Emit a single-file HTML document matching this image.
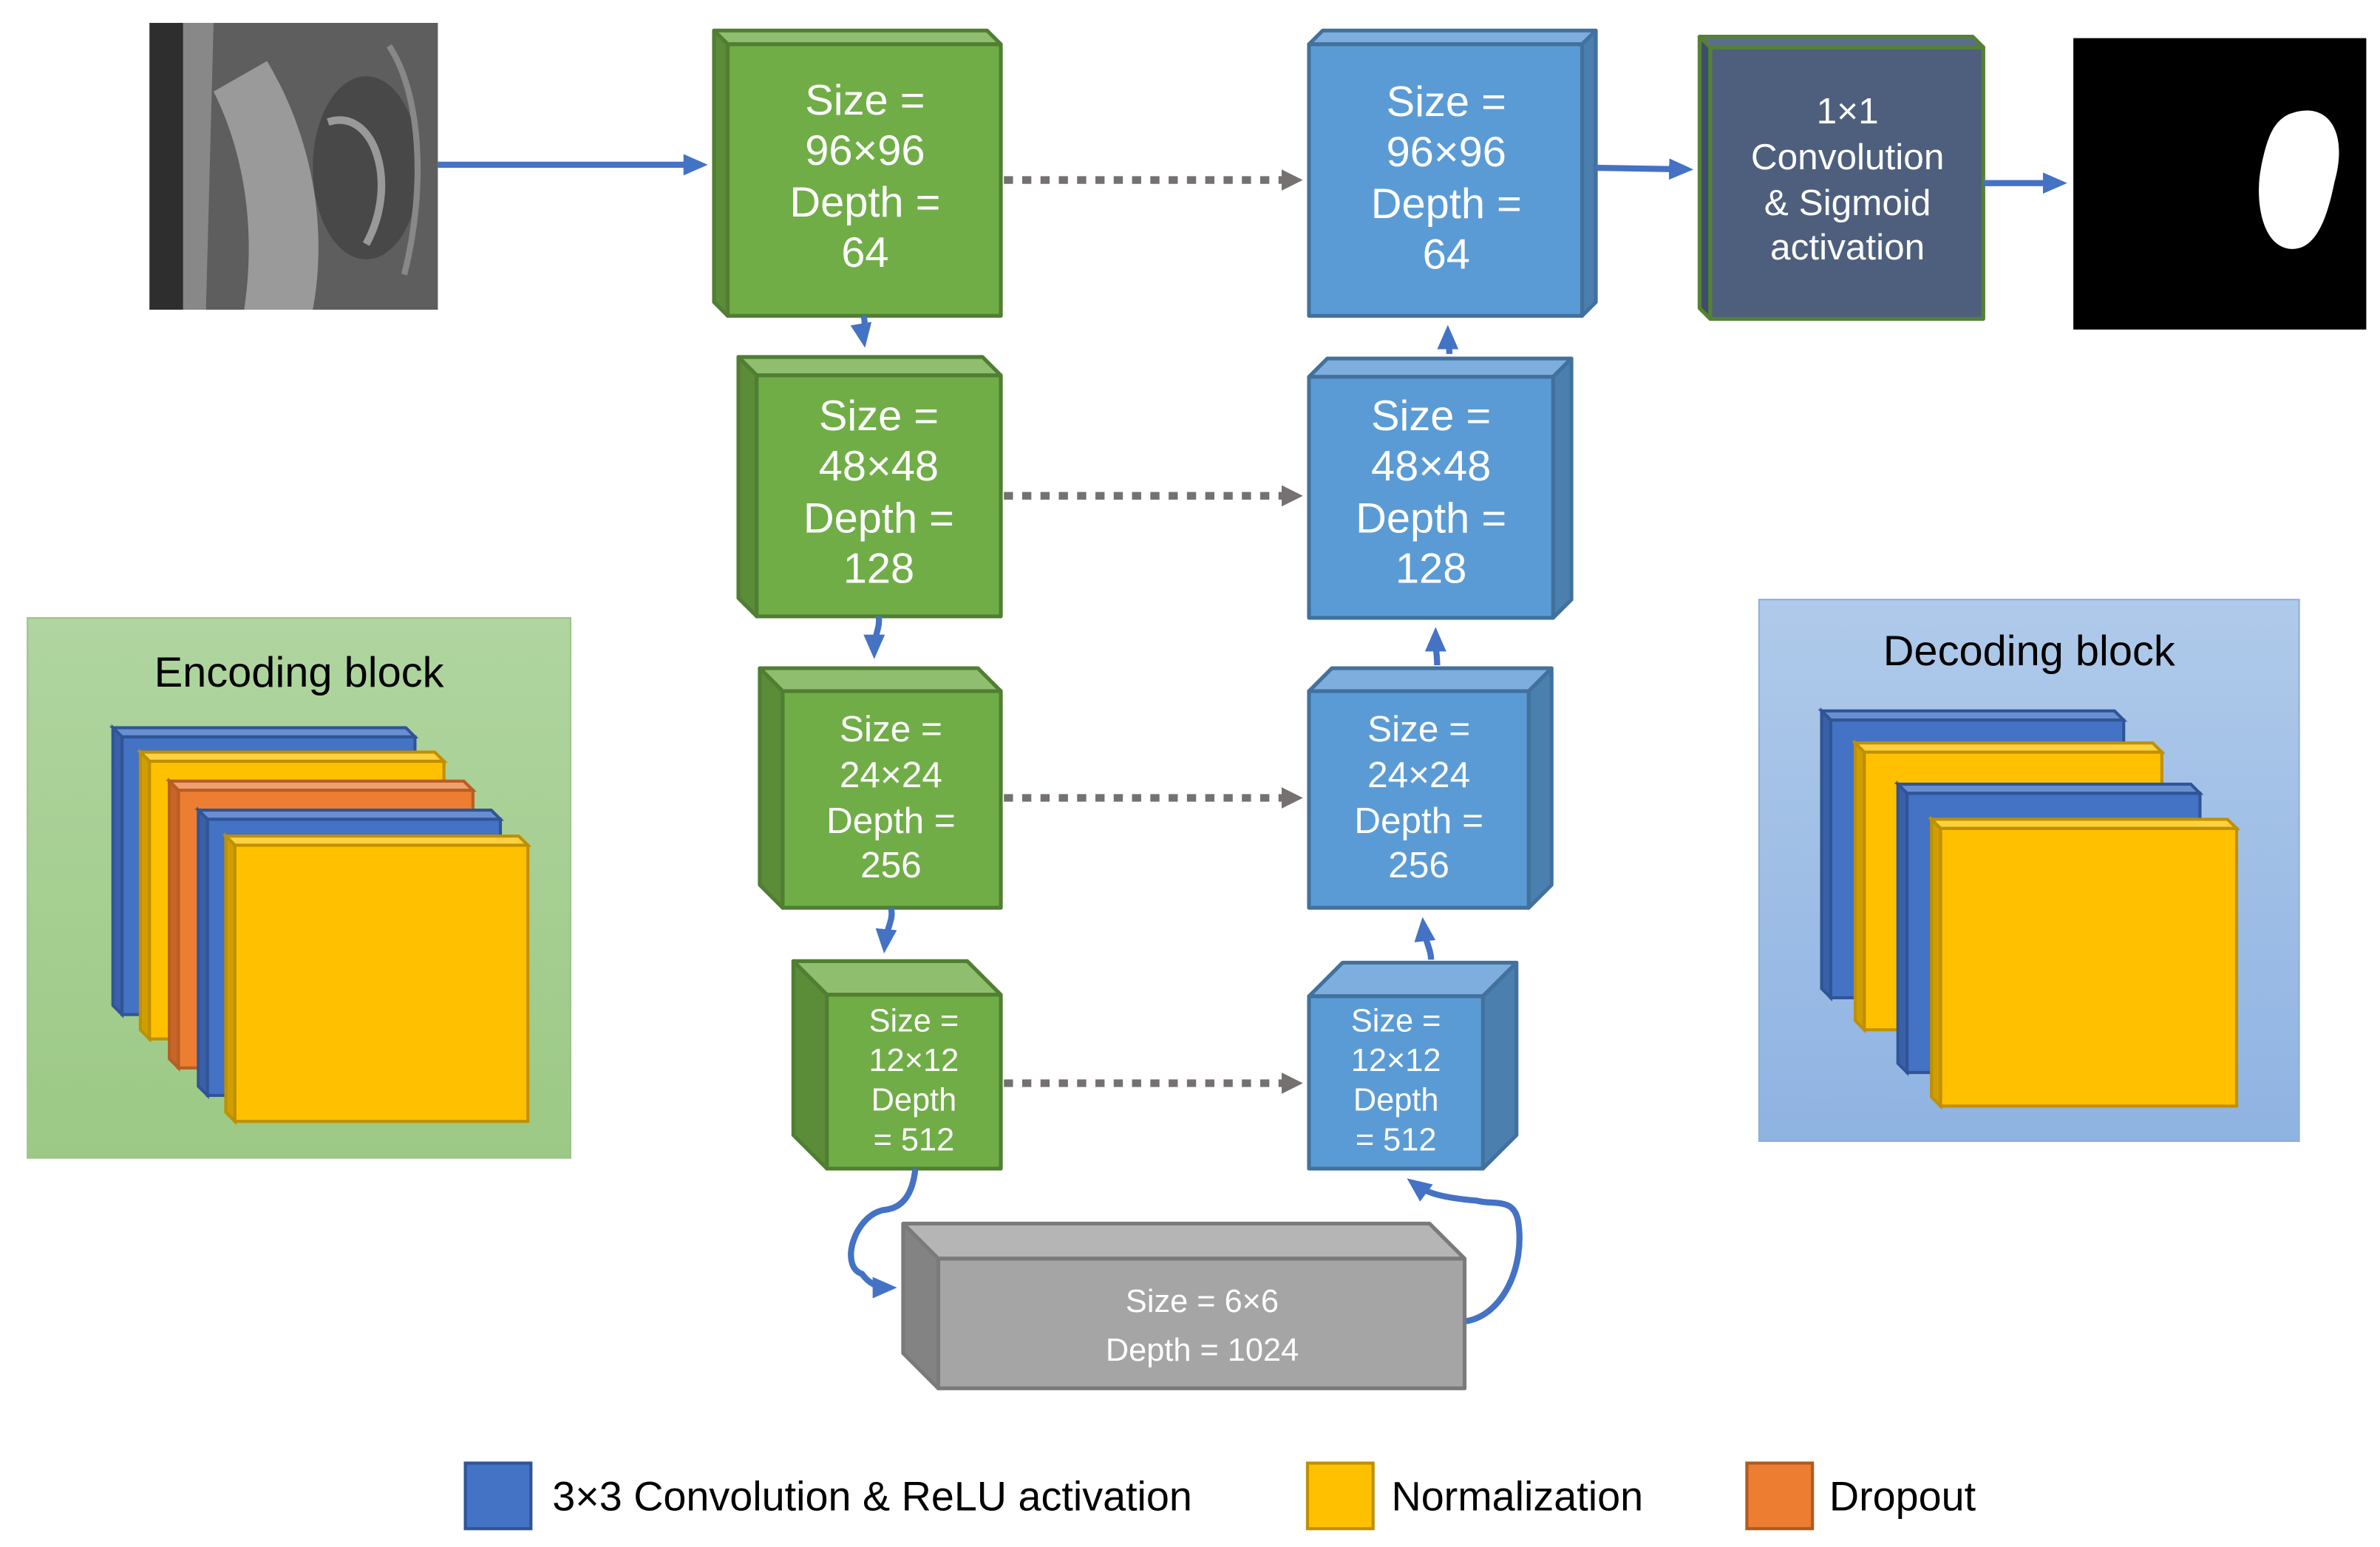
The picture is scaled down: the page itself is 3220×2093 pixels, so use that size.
<!DOCTYPE html>
<html><head><meta charset="utf-8"><style>
html,body{margin:0;padding:0;background:#fff;}
svg{display:block;}
text{font-family:"Liberation Sans",sans-serif;}
</style></head><body>
<svg width="3220" height="2093" viewBox="0 0 1560 1014" xmlns="http://www.w3.org/2000/svg">
<defs>
<linearGradient id="gg" x1="0" y1="0" x2="0" y2="1"><stop offset="0" stop-color="#b0d5a0"/><stop offset="1" stop-color="#9cc985"/></linearGradient>
<linearGradient id="bg" x1="0" y1="0" x2="0" y2="1"><stop offset="0" stop-color="#afcaea"/><stop offset="1" stop-color="#8fb3e2"/></linearGradient>
<marker id="ab" markerWidth="16" markerHeight="14" refX="10" refY="7" orient="auto" markerUnits="userSpaceOnUse" viewBox="0 0 16 14"><path d="M0,0 L16,7 L0,14 z" fill="#4472c4"/></marker>
<marker id="ag" markerWidth="14" markerHeight="14" refX="2" refY="7" orient="auto" markerUnits="userSpaceOnUse" viewBox="0 0 14 14"><path d="M0,0 L14,7 L0,14 z" fill="#767171"/></marker>
</defs>
<rect width="1560" height="1014" fill="#fff"/>

<!-- input image -->
<rect x="98" y="15" width="189" height="188" fill="#5e5e5e"/>
<path d="M98,15 h22 v188 h-22z" fill="#2e2e2e"/>
<path d="M120,15 h20 l-5,188 h-15z" fill="#888"/>
<path d="M140,60 C160,100 168,150 160,203 L205,203 C215,150 205,90 175,40z" fill="#9a9a9a"/>
<ellipse cx="240" cy="110" rx="35" ry="60" fill="#484848"/>
<path d="M215,80 C245,70 262,120 240,160" stroke="#999" stroke-width="5" fill="none"/>
<path d="M255,30 C275,60 280,120 265,180" stroke="#888" stroke-width="4" fill="none"/>
<!-- output image -->
<rect x="1359" y="25" width="192" height="191" fill="#000"/>
<path d="M1500,75 C1525,65 1540,85 1530,120 C1524,150 1515,165 1500,163 C1482,160 1478,130 1482,110 C1486,90 1490,80 1500,75z" fill="#fff"/>

<!-- encoding blocks -->
<g stroke="#507e32" stroke-width="2.5" stroke-linejoin="round">
<polygon points="468,20 647,20 656,29 477,29" fill="#8fbf6e"/><polygon points="468,20 477,29 477,207 468,198" fill="#5b8c38"/><rect x="477" y="29" width="179" height="178" fill="#70ad47"/>
<polygon points="484,234 644,234 656,246 496,246" fill="#8fbf6e"/><polygon points="484,234 496,246 496,404 484,392" fill="#5b8c38"/><rect x="496" y="246" width="160" height="158" fill="#70ad47"/>
<polygon points="498,438 641,438 656,453 513,453" fill="#8fbf6e"/><polygon points="498,438 513,453 513,595 498,580" fill="#5b8c38"/><rect x="513" y="453" width="143" height="142" fill="#70ad47"/>
<polygon points="520,630 634,630 656,652 542,652" fill="#8fbf6e"/><polygon points="520,630 542,652 542,766 520,744" fill="#5b8c38"/><rect x="542" y="652" width="114" height="114" fill="#70ad47"/>
</g>
<!-- decoding blocks -->
<g stroke="#41719c" stroke-width="2.5" stroke-linejoin="round">
<polygon points="858,29 867,20 1046,20 1037,29" fill="#7eaede"/><polygon points="1037,29 1046,20 1046,198 1037,207" fill="#4a7fae"/><rect x="858" y="29" width="179" height="178" fill="#5b9bd5"/>
<polygon points="858,247 870,235 1030,235 1018,247" fill="#7eaede"/><polygon points="1018,247 1030,235 1030,393 1018,405" fill="#4a7fae"/><rect x="858" y="247" width="160" height="158" fill="#5b9bd5"/>
<polygon points="858,453 873,438 1017,438 1002,453" fill="#7eaede"/><polygon points="1002,453 1017,438 1017,580 1002,595" fill="#4a7fae"/><rect x="858" y="453" width="144" height="142" fill="#5b9bd5"/>
<polygon points="858,653 880,631 994,631 972,653" fill="#7eaede"/><polygon points="972,653 994,631 994,744 972,766" fill="#4a7fae"/><rect x="858" y="653" width="114" height="113" fill="#5b9bd5"/>
</g>
<!-- bottleneck -->
<g stroke="#7a7a7a" stroke-width="2.5" stroke-linejoin="round">
<polygon points="592,802 937,802 960,825 615,825" fill="#b5b5b5"/><polygon points="592,802 615,825 615,910 592,887" fill="#838383"/><rect x="615" y="825" width="345" height="85" fill="#a5a5a5"/>
</g>
<!-- final -->
<g stroke="#548235" stroke-width="2.5" stroke-linejoin="round">
<polygon points="1114,24 1293,24 1300,31 1121,31" fill="#5c6d8a"/><polygon points="1114,24 1121,31 1121,209 1114,202" fill="#3e4d68"/><rect x="1121" y="31" width="179" height="178" fill="#4e5f7e"/>
</g>

<!-- texts -->
<g fill="#fff" text-anchor="middle">
<g font-size="28"><text x="567" y="75">Size =</text><text x="567" y="108">96×96</text><text x="567" y="142">Depth =</text><text x="567" y="175">64</text></g>
<g font-size="28"><text x="576" y="282">Size =</text><text x="576" y="315">48×48</text><text x="576" y="349">Depth =</text><text x="576" y="382">128</text></g>
<g font-size="24"><text x="584" y="486">Size =</text><text x="584" y="516">24×24</text><text x="584" y="546">Depth =</text><text x="584" y="575">256</text></g>
<g font-size="21"><text x="599" y="676">Size =</text><text x="599" y="702">12×12</text><text x="599" y="728">Depth</text><text x="599" y="754">= 512</text></g>
<g font-size="28"><text x="948" y="76">Size =</text><text x="948" y="109">96×96</text><text x="948" y="143">Depth =</text><text x="948" y="176">64</text></g>
<g font-size="28"><text x="938" y="282">Size =</text><text x="938" y="315">48×48</text><text x="938" y="349">Depth =</text><text x="938" y="382">128</text></g>
<g font-size="24"><text x="930" y="486">Size =</text><text x="930" y="516">24×24</text><text x="930" y="546">Depth =</text><text x="930" y="575">256</text></g>
<g font-size="21"><text x="915" y="676">Size =</text><text x="915" y="702">12×12</text><text x="915" y="728">Depth</text><text x="915" y="754">= 512</text></g>
<g font-size="21"><text x="788" y="860">Size = 6×6</text><text x="788" y="892">Depth = 1024</text></g>
<g font-size="24"><text x="1211" y="81">1×1</text><text x="1211" y="111">Convolution</text><text x="1211" y="141">&amp; Sigmoid</text><text x="1211" y="170">activation</text></g>
</g>

<!-- arrows -->
<g stroke="#4472c4" stroke-width="4" fill="none" marker-end="url(#ab)">
<path d="M287,108 L458,108"/>
<path d="M1046,110 L1104,111"/>
<path d="M1300,120 L1349,120"/>
<path d="M566,207 C568,213 565,216 566,222"/>
<path d="M576,404 C577,412 573,416 573,426"/>
<path d="M584,595 C586,603 581,608 580,619"/>
<path d="M950,232 C950,226 949,224 949,219"/>
<path d="M942,436 C942,430 941,426 941,417"/>
<path d="M938,629 C938,622 934,617 933,607"/>
<path d="M600,766 C598,785 590,792 580,793 C560,796 550,830 565,835 C570,842 576,844 582,844"/>
<path d="M961,866 C985,862 1000,830 995,800 C992,785 980,790 968,787 C945,785 935,782 927,776"/>
</g>
<!-- dotted -->
<g stroke="#767171" stroke-width="5" stroke-dasharray="6,6" fill="none" marker-end="url(#ag)">
<path d="M658,118 L842,118"/>
<path d="M658,325 L842,325"/>
<path d="M658,523 L842,523"/>
<path d="M658,710 L842,710"/>
</g>

<!-- encoding block legend -->
<rect x="18" y="405" width="356" height="354" fill="url(#gg)" stroke="#9dc38b" stroke-width="1"/>
<text x="196" y="450" font-size="28" text-anchor="middle" fill="#000">Encoding block</text>
<g stroke-width="2">
<g stroke="#2f5597"><polygon points="74,477 266,477 272,483 80,483" fill="#6a8fd0"/><polygon points="74,477 80,483 80,665 74,659" fill="#3a60a8"/><rect x="80" y="483" width="192" height="182" fill="#4472c4"/></g>
<g stroke="#bf9000"><polygon points="92,493 285,493 291,499 98,499" fill="#ffd040"/><polygon points="92,493 98,499 98,681 92,675" fill="#d09e00"/><rect x="98" y="499" width="193" height="182" fill="#ffc000"/></g>
<g stroke="#b85e22"><polygon points="111,512 304,512 310,518 117,518" fill="#f0a070"/><polygon points="111,512 117,518 117,700 111,694" fill="#c86528"/><rect x="117" y="518" width="193" height="182" fill="#ed7d31"/></g>
<g stroke="#2f5597"><polygon points="130,531 322,531 328,537 136,537" fill="#6a8fd0"/><polygon points="130,531 136,537 136,718 130,712" fill="#3a60a8"/><rect x="136" y="537" width="192" height="181" fill="#4472c4"/></g>
<g stroke="#bf9000"><polygon points="148,548 340,548 346,554 154,554" fill="#ffd040"/><polygon points="148,548 154,554 154,735 148,729" fill="#d09e00"/><rect x="154" y="554" width="192" height="181" fill="#ffc000"/></g>
</g>

<!-- decoding block legend -->
<rect x="1153" y="393" width="354" height="355" fill="url(#bg)" stroke="#8eaedb" stroke-width="1"/>
<text x="1330" y="436" font-size="28" text-anchor="middle" fill="#000">Decoding block</text>
<g stroke-width="2">
<g stroke="#2f5597"><polygon points="1194,466 1386,466 1392,472 1200,472" fill="#6a8fd0"/><polygon points="1194,466 1200,472 1200,654 1194,648" fill="#3a60a8"/><rect x="1200" y="472" width="192" height="182" fill="#4472c4"/></g>
<g stroke="#bf9000"><polygon points="1216,487 1411,487 1417,493 1222,493" fill="#ffd040"/><polygon points="1216,487 1222,493 1222,675 1216,669" fill="#d09e00"/><rect x="1222" y="493" width="195" height="182" fill="#ffc000"/></g>
<g stroke="#2f5597"><polygon points="1244,514 1436,514 1442,520 1250,520" fill="#6a8fd0"/><polygon points="1244,514 1250,520 1250,703 1244,697" fill="#3a60a8"/><rect x="1250" y="520" width="192" height="183" fill="#4472c4"/></g>
<g stroke="#bf9000"><polygon points="1266,537 1460,537 1466,543 1272,543" fill="#ffd040"/><polygon points="1266,537 1272,543 1272,725 1266,719" fill="#d09e00"/><rect x="1272" y="543" width="194" height="182" fill="#ffc000"/></g>
</g>

<!-- legend -->
<rect x="305" y="959" width="43" height="43" fill="#4472c4" stroke="#2f5597" stroke-width="2"/>
<text x="362" y="990" font-size="27" fill="#000">3×3 Convolution &amp; ReLU activation</text>
<rect x="857" y="959" width="43" height="43" fill="#ffc000" stroke="#bf9000" stroke-width="2"/>
<text x="912" y="990" font-size="27" fill="#000">Normalization</text>
<rect x="1145" y="959" width="43" height="43" fill="#ed7d31" stroke="#ae5a21" stroke-width="2"/>
<text x="1199" y="990" font-size="27" fill="#000">Dropout</text>
</svg>
</body></html>
